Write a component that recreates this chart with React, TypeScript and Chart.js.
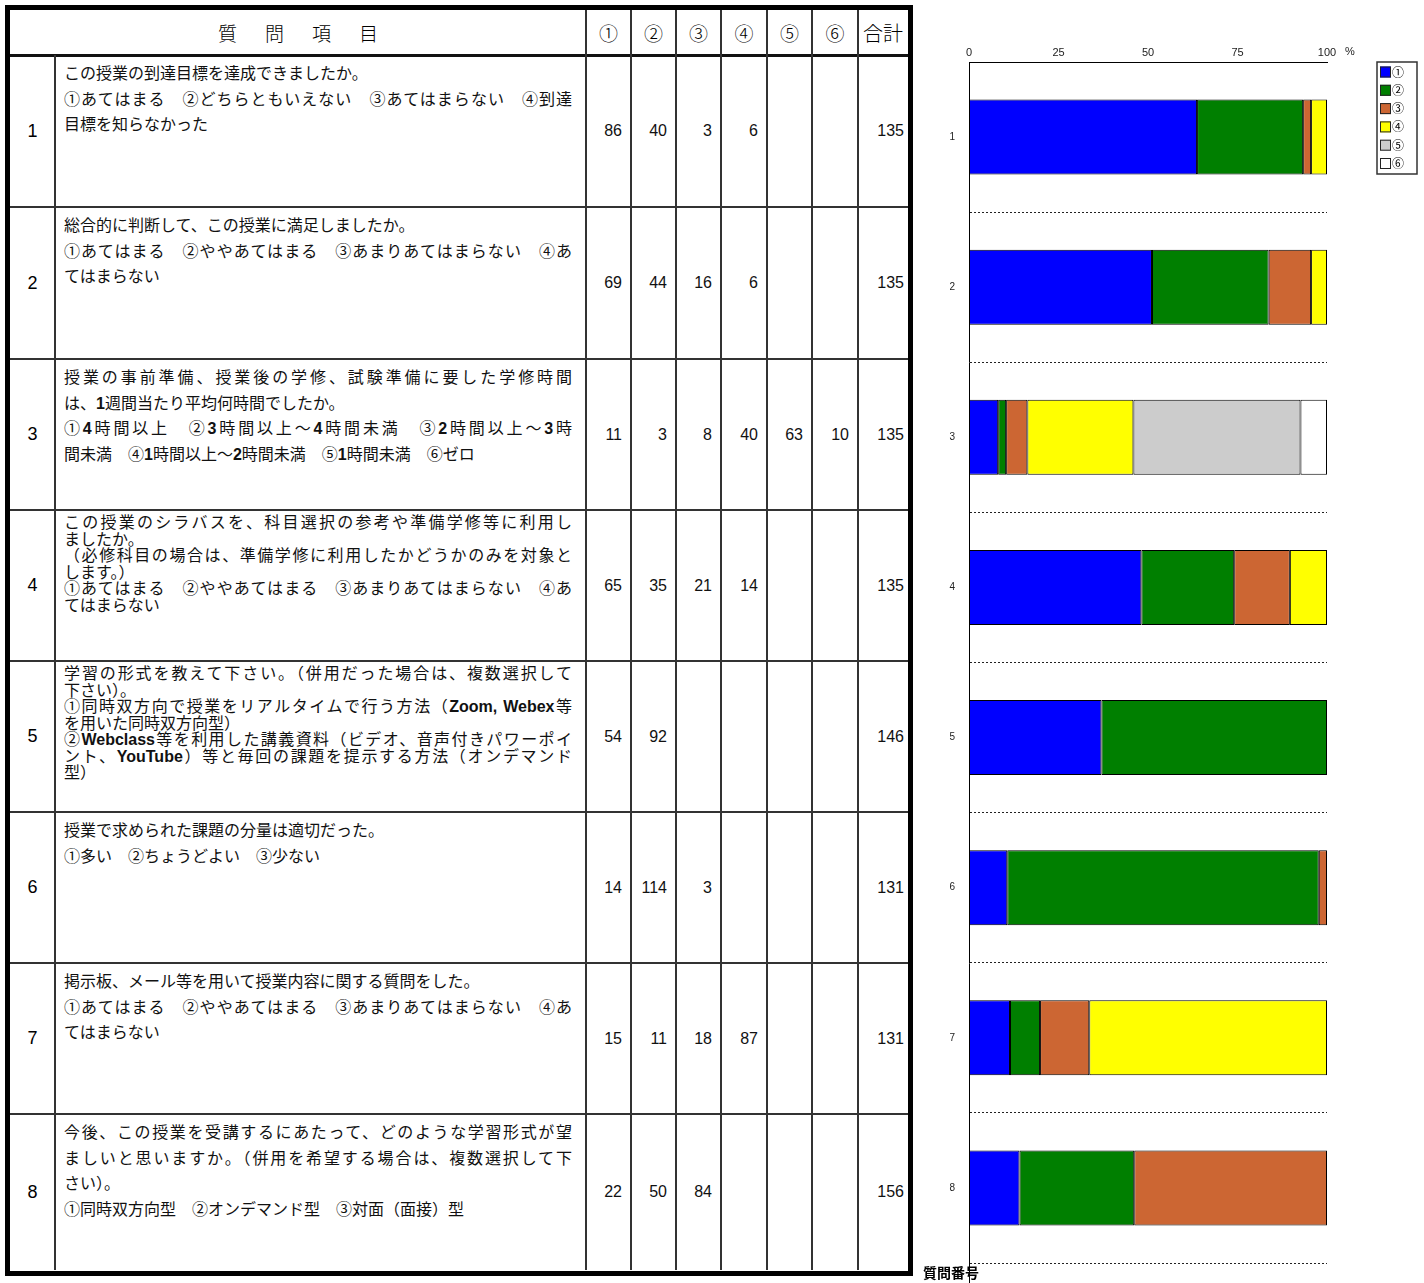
import React, { useEffect, useRef } from "react";
import { Chart, registerables } from "chart.js";

Chart.register(...registerables);

// ---- data ----
const questionNumbers = ["1", "2", "3", "4", "5", "6", "7", "8"];
const optionLabels = ["①", "②", "③", "④", "⑤", "⑥"];
const opt1Counts = [86, 69, 11, 65, 54, 14, 15, 22];
const opt2Counts = [40, 44, 3, 35, 92, 114, 11, 50];
const opt3Counts = [3, 16, 8, 21, null, 3, 18, 84];
const opt4Counts = [6, 6, 40, 14, null, null, 87, null];
const opt5Counts = [null, null, 63, null, null, null, null, null];
const opt6Counts = [null, null, 10, null, null, null, null, null];
const totalCounts = [135, 135, 135, 135, 146, 131, 131, 156];
const xTickValues = [0, 25, 50, 75, 100];
const optionColors = ["#0000FF", "#007F00", "#CC6633", "#FFFF00", "#CCCCCC", "#FFFFFF"];

const questionLines: string[][] = [
  [
    "この授業の到達目標を達成できましたか。",
    "①あてはまる　②どちらともいえない　③あてはまらない　④到達",
    "目標を知らなかった",
  ],
  [
    "総合的に判断して、この授業に満足しましたか。",
    "①あてはまる　②ややあてはまる　③あまりあてはまらない　④あ",
    "てはまらない",
  ],
  [
    "授業の事前準備、授業後の学修、試験準備に要した学修時間",
    "は、1週間当たり平均何時間でしたか。",
    "①4時間以上　②3時間以上～4時間未満　③2時間以上～3時",
    "間未満　④1時間以上～2時間未満　⑤1時間未満　⑥ゼロ",
  ],
  [
    "この授業のシラバスを、科目選択の参考や準備学修等に利用し",
    "ましたか。",
    "（必修科目の場合は、準備学修に利用したかどうかのみを対象と",
    "します。）",
    "①あてはまる　②ややあてはまる　③あまりあてはまらない　④あ",
    "てはまらない",
  ],
  [
    "学習の形式を教えて下さい。（併用だった場合は、複数選択して",
    "下さい）。",
    "①同時双方向で授業をリアルタイムで行う方法（Zoom, Webex等",
    "を用いた同時双方向型）",
    "②Webclass等を利用した講義資料（ビデオ、音声付きパワーポイ",
    "ント、YouTube）等と毎回の課題を提示する方法（オンデマンド",
    "型）",
  ],
  [
    "授業で求められた課題の分量は適切だった。",
    "①多い　②ちょうどよい　③少ない",
  ],
  [
    "掲示板、メール等を用いて授業内容に関する質問をした。",
    "①あてはまる　②ややあてはまる　③あまりあてはまらない　④あ",
    "てはまらない",
  ],
  [
    "今後、この授業を受講するにあたって、どのような学習形式が望",
    "ましいと思いますか。（併用を希望する場合は、複数選択して下",
    "さい）。",
    "①同時双方向型　②オンデマンド型　③対面（面接）型",
  ],
];
// indices of lines that are soft-wrapped (stretched to the cell width)
const wrappedLines: number[][] = [[1], [1], [0, 2], [0, 2, 4], [0, 2, 4, 5], [], [1], [0, 1]];

const headerTitle = "質問項目";
const totalHeader = "合計";
const axisTitle = "質問番号";

const countSeries = [opt1Counts, opt2Counts, opt3Counts, opt4Counts, opt5Counts, opt6Counts];

// ---- layout (table) ----
const colEdges = [10, 55, 586, 631, 676, 721, 767, 812, 858, 908];
const rowEdges = [10, 55, 207, 359, 510, 661, 812, 963, 1114, 1270];
const compactRows = [3, 4];

const JP = '"Liberation Sans", "Noto Sans CJK JP", sans-serif';

function renderLine(text: string) {
  const parts = text.split(/([A-Za-z0-9][A-Za-z0-9, ]*)/);
  return parts.map((p, i) =>
    /^[A-Za-z0-9]/.test(p) ? (
      <span key={i} style={{ fontWeight: 700 }}>
        {p}
      </span>
    ) : (
      <React.Fragment key={i}>{p}</React.Fragment>
    )
  );
}

const extrasPlugin = {
  id: "extras",
  afterDraw(chart: any) {
    const { ctx, chartArea } = chart;
    const xs = chart.scales.x;
    ctx.save();
    // axis extension
    ctx.strokeStyle = "#000";
    ctx.lineWidth = 1;
    ctx.beginPath();
    ctx.moveTo(chartArea.left + 0.5, chartArea.bottom);
    ctx.lineTo(chartArea.left + 0.5, chart.height);
    ctx.stroke();
    // percent sign
    ctx.fillStyle = "#222";
    ctx.font = '11px "Liberation Sans", sans-serif';
    ctx.textAlign = "left";
    ctx.textBaseline = "middle";
    ctx.fillText("%", xs.getPixelForValue(100) + 18, chartArea.top - 10);
    // axis title
    ctx.font = 'bold 14px "Noto Sans CJK JP", sans-serif';
    ctx.textBaseline = "top";
    ctx.fillStyle = "#000";
    ctx.fillText(axisTitle, chartArea.left - 46, chartArea.bottom + 3);
    // legend
    const lx = chartArea.right + 50;
    const ly = chartArea.top;
    ctx.strokeStyle = "#333";
    ctx.lineWidth = 1.5;
    ctx.strokeRect(lx, ly, 40, 112);
    chart.data.datasets.forEach((ds: any, i: number) => {
      const cy = ly + 10 + i * 18.3;
      ctx.fillStyle = ds.backgroundColor;
      ctx.fillRect(lx + 3, cy - 5.5, 11, 11);
      ctx.strokeStyle = "#222";
      ctx.lineWidth = 1;
      ctx.strokeRect(lx + 3.5, cy - 5, 10, 10);
      ctx.fillStyle = "#000";
      ctx.font = '12px "Noto Sans CJK JP", sans-serif';
      ctx.textBaseline = "middle";
      ctx.fillText(ds.label, lx + 15, cy);
    });
    ctx.restore();
  },
};

function ChartPanel() {
  const canvasRef = useRef<HTMLCanvasElement>(null);
  useEffect(() => {
    const canvas = canvasRef.current!;
    const datasets = countSeries.map((counts, k) => ({
      label: optionLabels[k],
      data: counts.map((c, i) => (c == null ? null : (c / totalCounts[i]) * 100)),
      backgroundColor: optionColors[k],
      borderColor: "#000",
      borderWidth: 1,
      borderSkipped: false,
      barPercentage: 0.5,
      categoryPercentage: 1,
    }));
    const chart = new Chart(canvas, {
      type: "bar",
      data: { labels: questionNumbers, datasets },
      options: {
        animation: false,
        responsive: false,
        indexAxis: "y",
        layout: { padding: { top: 0, right: 97, bottom: 13, left: 0 } },
        plugins: { legend: { display: false }, tooltip: { enabled: false } },
        scales: {
          x: {
            position: "top",
            stacked: true,
            min: 0,
            max: 100,
            afterBuildTicks: (s: any) => {
              s.ticks = xTickValues.map((v) => ({ value: v }));
            },
            afterFit: (s: any) => {
              s.height = 62;
            },
            grid: { display: false, drawTicks: false },
            border: { display: true, color: "#000", width: 1 },
            ticks: {
              color: "#222",
              padding: 2,
              maxRotation: 0,
              autoSkip: false,
              font: { family: '"Liberation Sans", sans-serif', size: 11 },
            },
          },
          y: {
            stacked: true,
            afterFit: (s: any) => {
              s.width = 56;
            },
            grid: { display: true, drawTicks: false, color: "#222", lineWidth: 1 },
            border: { display: true, color: "#000", width: 1, dash: [2, 2] },
            ticks: {
              color: "#222",
              padding: 14,
              font: { family: '"Liberation Sans", sans-serif', size: 10 },
            },
          },
        },
      } as any,
      plugins: [extrasPlugin],
    });
    return () => chart.destroy();
  }, []);
  return (
    <canvas
      ref={canvasRef}
      width={511}
      height={1283}
      style={{ position: "absolute", left: 913, top: 0, width: 511, height: 1283 }}
    />
  );
}

function Table() {
  const els: any[] = [];
  // header
  els.push(
    <div
      key="h-title"
      style={{
        position: "absolute",
        left: colEdges[0],
        top: rowEdges[0],
        width: colEdges[2] - colEdges[0],
        height: rowEdges[1] - rowEdges[0],
        display: "flex",
        alignItems: "center",
        justifyContent: "center",
        fontFamily: '"Noto Sans CJK JP", sans-serif',
        fontWeight: 300,
        fontSize: 19,
        letterSpacing: 28,
        paddingLeft: 28,
        boxSizing: "border-box",
      }}
    >
      {headerTitle}
    </div>
  );
  const headerLabels = [...optionLabels, totalHeader];
  headerLabels.forEach((lab, j) => {
    els.push(
      <div
        key={"h" + j}
        style={{
          position: "absolute",
          left: colEdges[j + 2],
          top: rowEdges[0],
          width: colEdges[j + 3] - colEdges[j + 2],
          height: rowEdges[1] - rowEdges[0],
          display: "flex",
          alignItems: "center",
          justifyContent: "center",
          fontFamily: '"Noto Sans CJK JP", sans-serif',
          fontWeight: 300,
          fontSize: j === 6 ? 20 : 19,
        }}
      >
        {lab}
      </div>
    );
  });
  // rows
  questionNumbers.forEach((q, i) => {
    const top = rowEdges[i + 1];
    const h = rowEdges[i + 2] - top;
    const compact = compactRows.includes(i);
    els.push(
      <div
        key={"n" + i}
        style={{
          position: "absolute",
          left: colEdges[0],
          top,
          width: colEdges[1] - colEdges[0],
          height: h,
          display: "flex",
          alignItems: "center",
          justifyContent: "center",
          fontFamily: '"Liberation Sans", sans-serif',
          fontSize: 18,
        }}
      >
        {q}
      </div>
    );
    els.push(
      <div
        key={"q" + i}
        style={{
          position: "absolute",
          left: colEdges[1] + 9,
          top: top + (compact ? 5 : 6),
          width: 508,
          fontFamily: JP,
          fontSize: 16,
          lineHeight: compact ? "16.5px" : "25.5px",
          color: "#111",
        }}
      >
        {questionLines[i].map((ln, k) => {
          const wrapped = wrappedLines[i].includes(k);
          return (
            <div
              key={k}
              style={{
                whiteSpace: "nowrap",
                textAlign: wrapped ? "justify" : "left",
                textAlignLast: wrapped ? "justify" : "auto",
                textJustify: "inter-character",
                width: wrapped ? 508 : undefined,
                overflow: "visible",
              } as any}
            >
              {renderLine(ln)}
            </div>
          );
        })}
      </div>
    );
    const vals = [...countSeries.map((s) => s[i]), totalCounts[i]];
    vals.forEach((v, j) => {
      els.push(
        <div
          key={"v" + i + "-" + j}
          style={{
            position: "absolute",
            left: colEdges[j + 2],
            top,
            width: colEdges[j + 3] - colEdges[j + 2],
            height: h,
            display: "flex",
            alignItems: "center",
            justifyContent: "flex-end",
            paddingRight: j === 6 ? 4 : 9,
            boxSizing: "border-box",
            fontFamily: '"Liberation Sans", sans-serif',
            fontSize: 16,
            color: "#111",
          }}
        >
          {v == null ? "" : String(v)}
        </div>
      );
    });
  });
  // lines
  for (let r = 2; r < rowEdges.length - 1; r++) {
    els.push(
      <div
        key={"hl" + r}
        style={{
          position: "absolute",
          left: colEdges[0],
          top: rowEdges[r] - 1,
          width: colEdges[9] - colEdges[0],
          height: 2,
          background: "#333",
        }}
      />
    );
  }
  els.push(
    <div
      key="hl-head"
      style={{
        position: "absolute",
        left: colEdges[0],
        top: rowEdges[1] - 1,
        width: colEdges[9] - colEdges[0],
        height: 3,
        background: "#111",
      }}
    />
  );
  for (let c = 1; c < colEdges.length - 1; c++) {
    const y0 = c === 1 ? rowEdges[1] : rowEdges[0];
    els.push(
      <div
        key={"vl" + c}
        style={{
          position: "absolute",
          left: colEdges[c] - 1,
          top: y0,
          width: 2,
          height: rowEdges[9] - y0,
          background: "#333",
        }}
      />
    );
  }
  els.push(
    <div
      key="outer"
      style={{
        position: "absolute",
        left: 5,
        top: 5,
        width: 908,
        height: 1271,
        border: "5px solid #000",
        boxSizing: "border-box",
      }}
    />
  );
  return <>{els}</>;
}

export default function App() {
  return (
    <div
      style={{
        position: "absolute",
        left: 0,
        top: 0,
        width: 1424,
        height: 1283,
        overflow: "hidden",
        background: "#fff",
        color: "#000",
      }}
    >
      <Table />
      <ChartPanel />
    </div>
  );
}
